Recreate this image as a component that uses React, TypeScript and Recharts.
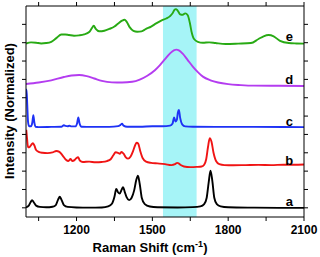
import { LineChart, Line, XAxis, YAxis, ReferenceArea, ReferenceDot } from "recharts";

// Raman shift (cm-1) / normalized intensity, spectra already stacked with their offsets
const shiftA = [1000, 1010, 1018, 1024, 1030, 1040, 1055, 1080, 1105, 1118, 1127, 1134, 1141, 1150, 1165, 1200, 1250, 1300, 1325, 1340, 1350, 1357, 1364, 1371, 1378, 1384, 1390, 1398, 1408, 1418, 1428, 1436, 1443, 1450, 1458, 1470, 1490, 1520, 1600, 1660, 1690, 1705, 1715, 1723, 1730, 1737, 1745, 1755, 1770, 1800, 1900, 2000, 2100];
const intensityA = [0.02, 0.1, 0.3, 0.42, 0.32, 0.12, 0.05, 0.03, 0.06, 0.15, 0.45, 0.6, 0.42, 0.15, 0.05, 0.02, 0.01, 0.02, 0.08, 0.22, 0.6, 1.03, 0.85, 0.78, 0.98, 1.13, 0.9, 0.58, 0.42, 0.55, 0.95, 1.5, 1.75, 1.3, 0.55, 0.2, 0.07, 0.03, 0.02, 0.04, 0.08, 0.2, 0.55, 1.4, 2.02, 1.5, 0.55, 0.2, 0.08, 0.03, 0.01, 0.0, 0.0];

const shiftB = [1001, 1004, 1008, 1013, 1020, 1027, 1033, 1040, 1050, 1065, 1085, 1105, 1120, 1132, 1145, 1158, 1168, 1176, 1183, 1192, 1200, 1206, 1213, 1225, 1250, 1275, 1300, 1320, 1335, 1345, 1355, 1364, 1371, 1378, 1386, 1395, 1404, 1414, 1424, 1432, 1438, 1444, 1452, 1462, 1475, 1495, 1520, 1550, 1575, 1590, 1598, 1604, 1612, 1625, 1650, 1675, 1695, 1705, 1713, 1720, 1727, 1734, 1742, 1752, 1765, 1785, 1820, 1870, 1920, 1970, 2020, 2060, 2100];
const intensityB = [4.25, 3.8, 3.3, 3.3, 3.42, 3.52, 3.4, 3.15, 3.05, 3.0, 2.98, 3.02, 3.1, 3.05, 2.85, 2.62, 2.55, 2.66, 2.55, 2.6, 2.72, 2.76, 2.58, 2.5, 2.52, 2.48, 2.5, 2.55, 2.65, 2.85, 3.03, 3.0, 2.95, 3.04, 2.95, 2.75, 2.68, 2.8, 3.1, 3.42, 3.55, 3.5, 3.1, 2.7, 2.52, 2.45, 2.42, 2.38, 2.33, 2.38, 2.45, 2.42, 2.33, 2.25, 2.22, 2.23, 2.25, 2.35, 2.65, 3.3, 3.8, 3.6, 3.0, 2.55, 2.38, 2.33, 2.32, 2.33, 2.34, 2.33, 2.35, 2.35, 2.36];

const shiftC = [1000, 1002, 1005, 1008, 1012, 1020, 1025, 1029, 1033, 1038, 1050, 1100, 1140, 1150, 1156, 1165, 1172, 1180, 1195, 1202, 1207, 1212, 1220, 1260, 1330, 1365, 1374, 1380, 1386, 1400, 1450, 1500, 1540, 1570, 1580, 1586, 1592, 1597, 1601, 1605, 1610, 1618, 1630, 1660, 1750, 1900, 2100];
const intensityC = [6.0, 6.45, 5.6, 4.7, 4.45, 4.45, 4.65, 5.05, 4.65, 4.42, 4.4, 4.41, 4.42, 4.5, 4.47, 4.45, 4.47, 4.44, 4.44, 4.6, 4.93, 4.6, 4.42, 4.41, 4.41, 4.45, 4.52, 4.58, 4.48, 4.42, 4.42, 4.45, 4.45, 4.48, 4.6, 4.93, 4.7, 4.8, 5.2, 5.33, 4.9, 4.55, 4.44, 4.42, 4.41, 4.41, 4.4];

const shiftD = [1000, 1050, 1100, 1150, 1180, 1210, 1240, 1270, 1300, 1340, 1380, 1420, 1450, 1480, 1510, 1530, 1550, 1570, 1585, 1595, 1605, 1620, 1640, 1660, 1680, 1700, 1730, 1760, 1800, 1850, 1900, 2000, 2100];
const intensityD = [6.75, 6.83, 6.95, 7.13, 7.21, 7.24, 7.18, 7.05, 6.92, 6.84, 6.83, 6.87, 6.99, 7.2, 7.5, 7.78, 8.1, 8.42, 8.58, 8.62, 8.58, 8.4, 8.05, 7.7, 7.4, 7.15, 6.95, 6.83, 6.74, 6.69, 6.66, 6.65, 6.64];

const shiftE = [1000, 1020, 1040, 1060, 1080, 1100, 1120, 1140, 1155, 1170, 1190, 1210, 1230, 1250, 1260, 1268, 1276, 1290, 1310, 1330, 1350, 1365, 1380, 1390, 1398, 1410, 1425, 1440, 1457, 1475, 1495, 1515, 1535, 1555, 1570, 1580, 1588, 1593, 1600, 1610, 1620, 1630, 1640, 1648, 1655, 1665, 1680, 1700, 1725, 1750, 1790, 1840, 1890, 1920, 1940, 1960, 1980, 2005, 2040, 2070, 2100];
const intensityE = [8.95, 9.02, 9.0, 8.96, 8.98, 9.05, 9.25, 9.45, 9.45, 9.42, 9.38, 9.4, 9.45, 9.58, 9.78, 9.92, 9.75, 9.62, 9.65, 9.75, 9.88, 10.05, 10.2, 10.25, 10.15, 9.85, 9.65, 9.6, 9.62, 9.75, 9.88, 10.05, 10.2, 10.32, 10.45, 10.6, 10.8, 10.83, 10.75, 10.55, 10.52, 10.6, 10.5, 10.1, 9.6, 9.2, 9.05, 9.0, 9.02, 8.98, 8.93, 8.95, 8.98, 9.2, 9.35, 9.42, 9.35, 9.1, 8.98, 8.96, 8.95];

const xTicks = [1050, 1200, 1350, 1500, 1650, 1800, 1950, 2100];
const yTicks = [0, 1, 2, 3, 4, 5, 6, 7, 8, 9, 10];
const bandRange = [1542, 1675];

const curveLabels = ["a", "b", "c", "d", "e"];
const labelLevels = [0.33, 2.61, 4.69, 6.98, 9.33];

const toPoints = (xs: number[], ys: number[]) => xs.map((x, i) => ({ x, y: ys[i] }));

const series = [
  { key: "a", data: toPoints(shiftA, intensityA), color: "#000000" },
  { key: "b", data: toPoints(shiftB, intensityB), color: "#f01414" },
  { key: "c", data: toPoints(shiftC, intensityC), color: "#1e32f5" },
  { key: "d", data: toPoints(shiftD, intensityD), color: "#b43cf0" },
  { key: "e", data: toPoints(shiftE, intensityE), color: "#28aa14" },
];

const font = "'Liberation Sans', Arial, sans-serif";
const tickStyle = { fill: "#000", fontSize: 12, fontWeight: "bold", fontFamily: font };

export default function App() {
  return (
    <div style={{ position: "absolute", left: 0, top: 0, width: 320, height: 257, background: "#fff" }}>
      <LineChart width={320} height={257} margin={{ top: 4, right: 6, bottom: 15, left: 10 }}>
        <XAxis
          xAxisId="bottom"
          dataKey="x"
          type="number"
          domain={[1000, 2100]}
          allowDataOverflow
          ticks={xTicks}
          tickFormatter={(v: number) => (v % 300 === 0 ? String(v) : "")}
          tick={tickStyle}
          tickSize={4}
          tickMargin={4}
          height={25}
          stroke="#000"
          label={{
            content: () => (
              <text x={150} y={252} textAnchor="middle" fontFamily={font} fontSize={13} fontWeight="bold" fill="#000">
                Raman Shift (cm
                <tspan fontSize={9} dy={-5}>-1</tspan>
                <tspan dy={5}>)</tspan>
              </text>
            ),
          }}
        />
        <XAxis
          xAxisId="top"
          orientation="top"
          dataKey="x"
          type="number"
          domain={[1000, 2100]}
          allowDataOverflow
          ticks={xTicks}
          tickFormatter={() => ""}
          tickSize={4}
          height={2}
          stroke="#000"
        />
        <YAxis
          yAxisId="left"
          type="number"
          domain={[-0.5, 11]}
          allowDataOverflow
          ticks={yTicks}
          tickFormatter={() => ""}
          tickSize={4}
          width={16}
          stroke="#000"
          label={{
            content: () => (
              <text x={14} y={111} transform="rotate(-90 14 111)" textAnchor="middle" fontFamily={font} fontSize={13} fontWeight="bold" fill="#000">
                Intensity (Normalized)
              </text>
            ),
          }}
        />
        <YAxis
          yAxisId="right"
          orientation="right"
          type="number"
          domain={[-0.5, 11]}
          allowDataOverflow
          ticks={yTicks}
          tickFormatter={() => ""}
          tickSize={4}
          width={10}
          stroke="#000"
        />
        <ReferenceArea
          xAxisId="bottom"
          yAxisId="left"
          x1={bandRange[0]}
          x2={bandRange[1]}
          fill="#a6f4f7"
          fillOpacity={1}
          stroke="none"
        />
        {series.map((s) => (
          <Line
            key={s.key}
            xAxisId="bottom"
            yAxisId="left"
            data={s.data}
            dataKey="y"
            type="monotone"
            stroke={s.color}
            strokeWidth={1.9}
            dot={false}
            activeDot={false}
            isAnimationActive={false}
          />
        ))}
        {curveLabels.map((name, i) => (
          <ReferenceDot
            key={name}
            xAxisId="bottom"
            yAxisId="left"
            x={2042}
            y={labelLevels[i]}
            r={1}
            fill="none"
            stroke="none"
            label={{ value: name, position: "center", fill: "#000", fontSize: 13, fontWeight: "bold", fontFamily: font }}
          />
        ))}
      </LineChart>
    </div>
  );
}
